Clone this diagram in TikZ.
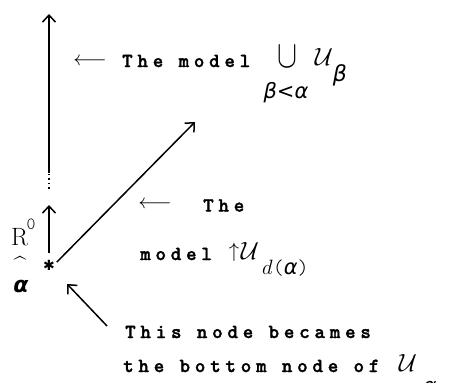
\documentclass[tikz,border=0pt]{standalone}
\usepackage{fontspec}
\newfontfamily\gr{DejaVu Sans}
\newfontfamily\tw[LetterSpace=24, BoldFeatures={FakeBold=1.6}]{Latin Modern Mono Light}
\newfontfamily\tp{Latin Modern Mono Light}
\usetikzlibrary{arrows.meta}
\tikzset{
  lbl/.style={font=\fontsize{20}{23}\selectfont\tw\bfseries, anchor=base west, inner sep=0},
  mth/.style={inner sep=0, font=\fontsize{#1}{#1}\selectfont},
  mth/.default=24,
  grk/.style={inner sep=0, font=\fontsize{#1}{#1}\selectfont\gr\itshape},
  conn/.style={line width=1.5pt, -{Straight Barb[length=7pt,width=13pt,line width=1.5pt]}},
  dotline/.style={line width=1.8pt, dash pattern=on 1.6pt off 3pt},
}
\begin{document}
\begin{tikzpicture}[x=1pt,y=-1pt]
\useasboundingbox (0,0) rectangle (456,383);
% nodes
\node[circle, minimum size=16pt, inner sep=0, font=\fontsize{14}{14}\selectfont\gr] (star) at (49,265) {✱};
\coordinate (vtop) at (49,14);
\coordinate (vsolid) at (49,173);
\coordinate (vbot) at (49,189);
\coordinate (rtip) at (49,205);
\coordinate (dtip) at (195,122);
\coordinate (btail) at (107,326);
% connectors
\draw[dotline] (vbot) -- (vsolid);
\draw[conn] (vsolid) -- (vtop);
\draw[conn, shorten <=4pt] (star.north) -- (rtip);
\draw[conn] (star.20) -- (dtip);
\draw[conn, shorten >=18pt] (btail) -- (star);
% left labels
\node[mth=25, anchor=base west] (R) at (11,245) {R};
\node[inner sep=0, font=\fontsize{17}{17}\selectfont\tp] (R0) at (31,224) {0};
\node[inner sep=0, font=\fontsize{22}{22}\selectfont] (hat) at (20,264) {\textasciicircum};
\node[grk=22, anchor=base] (ahat) at (21,292) {\bfseries α};
% top label
\node[mth=22] (larr1) at (90,62) {$\longleftarrow$};
\node[lbl] (t1) at (122,67) {The model};
\node[mth=24] (cup) at (287,57) {\scalebox{1.2}[1.55]{$\cup$}};
\node[grk=21] (blta) at (286,93) {β{\upshape <}α};
\node[mth=26] (U1) at (324,57) {$\mathcal{U}$};
\node[grk=22] (b1) at (340,75) {β};
% middle label
\node[mth=22] (larr2) at (155,205) {$\longleftarrow$};
\node[lbl] (t2) at (203,211.5) {The};
\node[lbl] (t3) at (140,260) {model};
\node[mth=22] (up) at (234,252) {$\uparrow$};
\node[mth=24] (U2) at (250,251) {$\mathcal{U}$};
\node[inner sep=0, anchor=base west, font=\fontsize{21}{21}\selectfont] (da) at (262,274) {$d${\tp(}{\gr\itshape α}{\tp)}};
% bottom label
\node[lbl] (t4) at (125,338) {This node becames};
\node[lbl] (t5) at (123,372) {the bottom node of};
\node[mth=28] (U3) at (408,363) {$\mathcal{U}$};
\node[grk=20] (a3) at (430,387) {α};
\end{tikzpicture}
\end{document}
